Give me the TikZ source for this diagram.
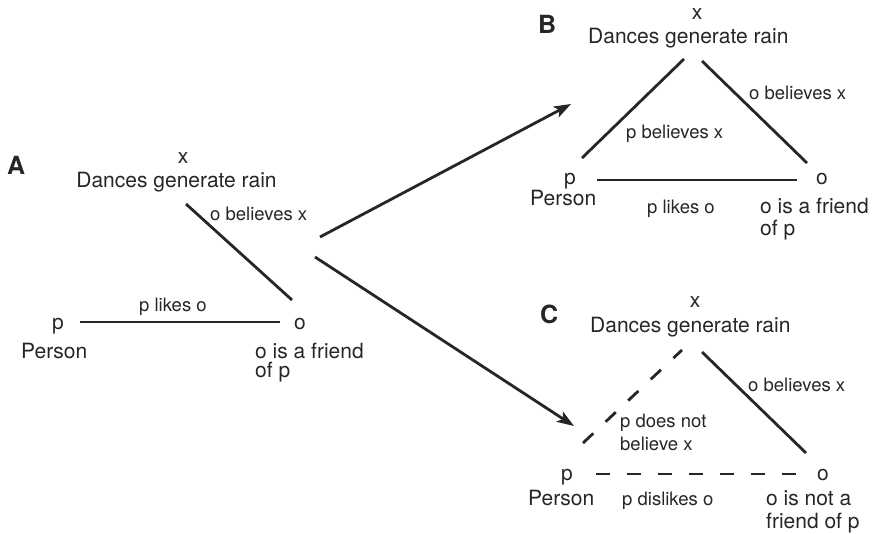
\documentclass[tikz,border=0pt]{standalone}
\usepackage{fontspec}
\setmainfont{TeX Gyre Heros}
\usetikzlibrary{arrows.meta}
\tikzset{
  main/.style={font=\fontsize{21}{23}\selectfont, inner sep=0pt, text=black!85},
  lab/.style={font=\fontsize{18.5}{21}\selectfont, inner sep=0pt, text=black!85},
  panel/.style={font=\fontsize{25}{27}\selectfont\bfseries, inner sep=0pt, text=black!85},
  rel/.style={line width=2.8pt, draw=black!85},
  neg/.style={rel, dash pattern=on 14pt off 17pt},
  trans/.style={line width=2.8pt, draw=black!85, -{Stealth[length=17pt,width=12pt,inset=4pt]}}
}
\begin{document}
\begin{tikzpicture}[x=1pt,y=-1pt]
\useasboundingbox (0,0) rectangle (875,533);
% ---------- Panel A ----------
\node[panel, anchor=base west] (Alab) at (7,174) {A};
\node[main, anchor=base] (Ax) at (183,163.5) {x};
\node[main, anchor=base] (Axt) at (176.5,187) {Dances generate rain};
\node[lab, anchor=base west] (Aob) at (210,220) {o believes x};
\node[main, anchor=base] (Ap) at (58,329) {p};
\node[main, anchor=base west] (Aper) at (21,358) {Person};
\node[lab, anchor=base west] (Alik) at (139,311.5) {p likes o};
\node[main, anchor=base] (Ao) at (300,329) {o};
\node[main, anchor=base west] (Af1) at (255,358) {o is a friend};
\node[main, anchor=base west] (Af2) at (255,377) {of p};
\coordinate (AxE) at (186,204);
\coordinate (AoN) at (292,300);
\coordinate (ApE) at (80,322);
\coordinate (AoW) at (280,322);
\draw[rel] (AxE) -- (AoN);
\draw[rel] (ApE) -- (AoW);
% ---------- transitions ----------
\coordinate (T1s) at (320,237);
\coordinate (T1e) at (571,104);
\coordinate (T2s) at (315,257);
\coordinate (T2e) at (574,426);
\draw[trans] (T1s) -- (T1e);
\draw[trans] (T2s) -- (T2e);
% ---------- Panel B ----------
\node[panel, anchor=base west] (Blab) at (538,33) {B};
\node[main, anchor=base] (Bx) at (697,19) {x};
\node[main, anchor=base west] (Bxt) at (588,43) {Dances generate rain};
\node[lab, anchor=base west] (Bob) at (749,99) {o believes x};
\node[lab, anchor=base west] (Bpb) at (626,138) {p believes x};
\node[main, anchor=base] (Bp) at (570,184) {p};
\node[main, anchor=base] (Bo) at (822,184) {o};
\node[main, anchor=base west] (Bper) at (530,205) {Person};
\node[lab, anchor=base west] (Blik) at (647,213) {p likes o};
\node[main, anchor=base west] (Bf1) at (760,213) {o is a friend};
\node[main, anchor=base west] (Bf2) at (760,235) {of p};
\coordinate (BpN) at (582,158);
\coordinate (BxW) at (684,59);
\coordinate (BxE) at (702,61);
\coordinate (BoN) at (807,163);
\coordinate (BpE) at (597,180);
\coordinate (BoW) at (797,180);
\draw[rel] (BpN) -- (BxW);
\draw[rel] (BxE) -- (BoN);
\draw[rel] (BpE) -- (BoW);
% ---------- Panel C ----------
\node[panel, anchor=base west] (Clab) at (540,323) {C};
\node[main, anchor=base] (Cx) at (695,307) {x};
\node[main, anchor=base west] (Cxt) at (590,332) {Dances generate rain};
\node[lab, anchor=base west] (Cob) at (748,391) {o believes x};
\node[lab, anchor=base west] (Cpn1) at (620,427) {p does not};
\node[lab, anchor=base west] (Cpn2) at (620,450) {believe x};
\node[main, anchor=base] (Cp) at (567,480) {p};
\node[main, anchor=base] (Co) at (823,480) {o};
\node[main, anchor=base west] (Cper) at (528,505) {Person};
\node[lab, anchor=base west] (Cdis) at (622,505) {p dislikes o};
\node[main, anchor=base west] (Cf1) at (766,505) {o is not a};
\node[main, anchor=base west] (Cf2) at (766,528) {friend of p};
\coordinate (CpN) at (583,443);
\coordinate (CxW) at (682,350);
\coordinate (CxE) at (702,352);
\coordinate (CoN) at (806,453);
\coordinate (CpE) at (596,474);
\coordinate (CoW) at (796,474);
\draw[neg] (CpN) -- (CxW);
\draw[rel] (CxE) -- (CoN);
\draw[neg] (CpE) -- (CoW);
\end{tikzpicture}
\end{document}
